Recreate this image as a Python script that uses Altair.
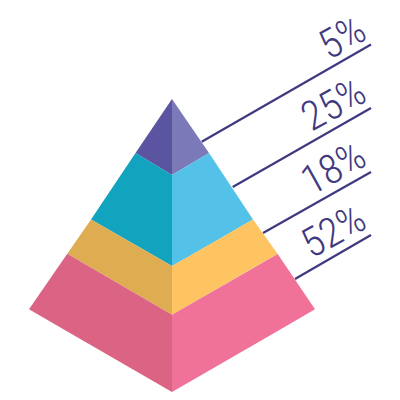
import altair as alt
import pandas as pd

faces = {
    "a_left":  ([135.5, 172], [153, 99], [153, 175], "#5b54a0"),
    "a_right": ([172, 209], [99, 153], [175, 153], "#7c79b9"),
    "b_left":  ([91, 135.5, 172], [219.5, 153, 175], [219.5, 245, 266], "#12a3bf"),
    "b_right": ([172, 209, 253], [175, 153, 219.5], [266, 245, 219.5], "#53c1e8"),
    "c_left":  ([67.3, 91, 172], [253.7, 219.5, 266], [253.7, 267.5, 314.7], "#dead52"),
    "c_right": ([172, 253, 277.7], [266, 219.5, 254], [314.7, 268, 254], "#fdc461"),
    "d_left":  ([29, 67.3, 172], [309.3, 253.7, 314.7], [309.3, 331.5, 392], "#db6384"),
    "d_right": ([172, 277.7, 315], [314.7, 254, 309.3], [392, 331, 309.3], "#f07298"),
}

labels = ["5%", "25%", "18%", "52%"]
line_x1 = [201.7, 232.7, 263, 295]
line_y1 = [141.7, 187, 233, 279]
line_x2 = [371, 371, 371, 371]
line_y2 = [44.5, 108, 172, 235]
label_x = [369, 369, 369, 369]
label_y = [38, 100, 164, 227]

INK = "#3f3a80"
xs = alt.Scale(domain=[8, 392], range=[0, 384], zero=False, nice=False)
ys = alt.Scale(domain=[8, 392], range=[0, 384], zero=False, nice=False)

rows = []
for name, (fx, ftop, fbot, col) in faces.items():
    for a, b, c in zip(fx, ftop, fbot):
        rows.append({"face": name, "x": a, "y": b, "y2": c, "col": col})
df = pd.DataFrame(rows)

areas = alt.Chart(df).mark_area(interpolate="linear", orient="vertical", clip=False).encode(
    x=alt.X("x:Q", scale=xs, axis=None),
    y=alt.Y("y:Q", scale=ys, axis=None),
    y2="y2:Q",
    detail="face:N",
    color=alt.Color("col:N", scale=None),
)

line_rows = []
for i, lab in enumerate(labels):
    line_rows.append({"k": lab, "x": line_x1[i], "y": line_y1[i], "o": 0})
    line_rows.append({"k": lab, "x": line_x2[i], "y": line_y2[i], "o": 1})
lines = alt.Chart(pd.DataFrame(line_rows)).mark_line(color=INK, strokeWidth=2.2).encode(
    x=alt.X("x:Q", scale=xs, axis=None),
    y=alt.Y("y:Q", scale=ys, axis=None),
    detail="k:N",
    order="o:Q",
)

texts = alt.Chart(pd.DataFrame({"t": labels, "x": label_x, "y": label_y})).mark_text(
    font="Roboto Condensed", fontSize=41, angle=331, align="right", fontWeight=300,
    baseline="alphabetic", color=INK,
).encode(
    x=alt.X("x:Q", scale=xs, axis=None),
    y=alt.Y("y:Q", scale=ys, axis=None),
    text="t:N",
)

chart = alt.layer(lines, areas, texts).properties(width=384, height=384, padding=0).configure_view(stroke=None)
chart.save("out.html", embed_options={"renderer": "svg", "actions": False})
